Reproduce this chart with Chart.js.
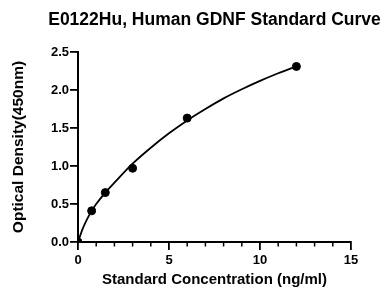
<!DOCTYPE html>
<html>
<head>
<meta charset="utf-8">
<script src="https://cdn.jsdelivr.net/npm/chart.js@4"></script>
<style>
  html, body { margin: 0; padding: 0; background: #fff; }
  #wrap { width: 383px; height: 289px; }
</style>
</head>
<body>
<div id="wrap"><canvas id="chart" width="383" height="289"></canvas></div>
<script>
// standards (ng/ml) and measured OD
const concentrations = [0, 0.75, 1.5, 3, 6, 12];
const odValues = [0, 0.41, 0.65, 0.97, 1.63, 2.31];

// fitted curve
const curveX = [0, 0.25, 0.5, 0.75, 1, 1.5, 2, 3, 4, 5, 6, 7, 8, 9, 10, 11, 12];
const curveY = [0, 0.17, 0.3, 0.41, 0.5, 0.65, 0.78, 1.03, 1.24, 1.43, 1.6, 1.75, 1.89, 2.01, 2.12, 2.22, 2.31];

const yTicks = [0, 0.5, 1, 1.5, 2, 2.5];
const xLabels = [0, 5, 10, 15];

const FONT = "'Liberation Sans', Arial, sans-serif";

const titlePlugin = {
  id: "topTitle",
  afterDraw(chart) {
    const { ctx, chartArea } = chart;
    ctx.save();
    ctx.font = "bold 17.5px " + FONT;
    ctx.fillStyle = "#000";
    ctx.textAlign = "center";
    ctx.textBaseline = "middle";
    ctx.fillText("E0122Hu, Human GDNF Standard Curve", (chartArea.left + chartArea.right) / 2, 20);
    ctx.restore();
  }
};

// short minor ticks on the x axis (majors come from the grid)
const minorTicks = {
  id: "minorTicks",
  afterDraw(chart) {
    const { ctx, scales } = chart;
    const x = scales.x;
    ctx.save();
    ctx.strokeStyle = "#000";
    ctx.lineWidth = 1.5;
    x.ticks.forEach((t) => {
      if (xLabels.includes(t.value)) return;
      const px = x.getPixelForValue(t.value);
      ctx.beginPath();
      ctx.moveTo(px, x.top);
      ctx.lineTo(px, x.top + 4.5);
      ctx.stroke();
    });
    ctx.restore();
  }
};

new Chart(document.getElementById("chart"), {
  type: "scatter",
  data: {
    datasets: [
      {
        label: "Fit",
        data: curveX.map((x, i) => ({ x, y: curveY[i] })),
        showLine: true,
        borderColor: "#000",
        borderWidth: 1.8,
        pointRadius: 0,
        cubicInterpolationMode: "monotone"
      },
      {
        label: "Standards",
        data: concentrations.map((x, i) => ({ x, y: odValues[i] })),
        backgroundColor: "#000",
        borderColor: "#000",
        pointRadius: 4,
        showLine: false
      }
    ]
  },
  options: {
    responsive: false,
    animation: false,
    layout: { padding: { left: 0, right: 32, top: 52, bottom: 0 } },
    plugins: {
      legend: { display: false },
      tooltip: { enabled: false }
    },
    scales: {
      x: {
        type: "linear",
        min: 0,
        max: 15,
        border: { color: "#000", width: 2 },
        grid: {
          drawOnChartArea: false,
          drawTicks: true,
          tickLength: 8,
          lineWidth: 1.8,
          tickColor: (c) => (xLabels.includes(c.tick.value) ? "#000" : "rgba(0,0,0,0)")
        },
        ticks: {
          stepSize: 1,
          autoSkip: false,
          maxRotation: 0,
          color: "#000",
          padding: 3,
          font: { family: FONT, size: 13, weight: "bold" },
          callback: (v) => (xLabels.includes(v) ? String(v) : "")
        },
        title: {
          display: true,
          text: "Standard Concentration (ng/ml)",
          color: "#000",
          font: { family: FONT, size: 15, weight: "bold" },
          padding: { top: 0, bottom: 0 }
        },
        afterFit: (s) => { s.height = 47; }
      },
      y: {
        type: "linear",
        min: 0,
        max: 2.5,
        border: { color: "#000", width: 2 },
        grid: { drawOnChartArea: false, drawTicks: true, tickLength: 8, color: "#000", lineWidth: 1.8 },
        afterBuildTicks: (s) => { s.ticks = yTicks.map((v) => ({ value: v })); },
        ticks: {
          color: "#000",
          padding: 1,
          font: { family: FONT, size: 13, weight: "bold" },
          callback: (v) => Number(v).toFixed(1)
        },
        title: {
          display: true,
          text: "Optical Density(450nm)",
          color: "#000",
          font: { family: FONT, size: 15.5, weight: "bold" },
          padding: { top: 9, bottom: 0 }
        },
        afterFit: (s) => { s.width = 78; }
      }
    }
  },
  plugins: [titlePlugin, minorTicks]
});
</script>
</body>
</html>
